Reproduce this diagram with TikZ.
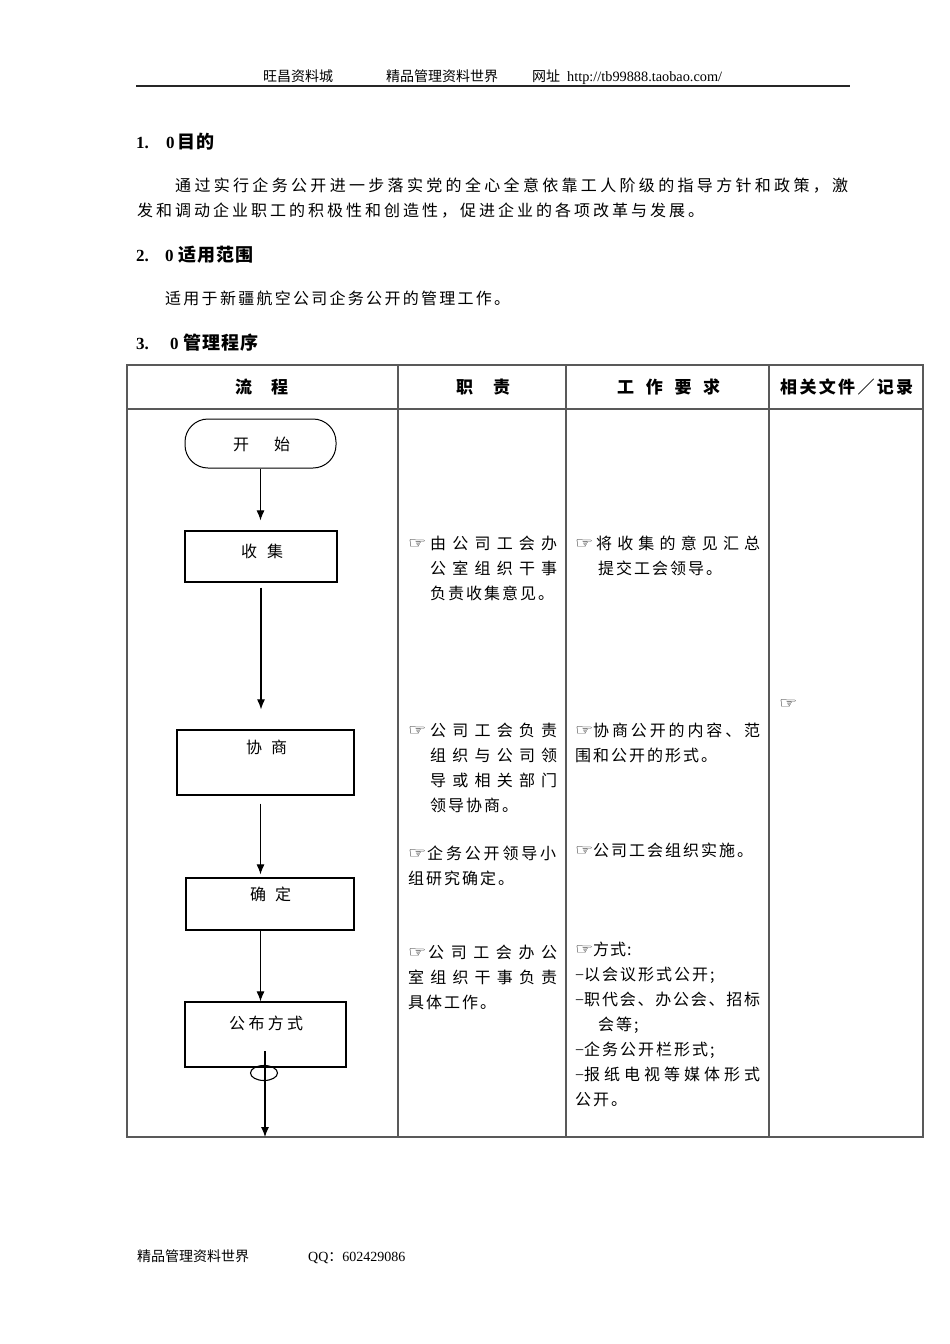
\documentclass[tikz,border=0pt]{standalone}
\usepackage{graphicx}
\usepackage{fontspec}
\setmainfont{Liberation Serif}
\newfontfamily\cjk{Noto Sans CJK SC}
\newfontfamily\sym{DejaVu Sans}
\usetikzlibrary{arrows.meta,shapes.geometric}

\def\sprdX#1#2{#1\ifx\relax#2\else\hfil\expandafter\sprdX\expandafter#2\fi}
\newcommand\spreadline[2]{\hbox to #1pt{\sprdX#2\relax}}
\def\gX#1#2{#1\ifx\relax#2\else\kern\curgap pt\expandafter\gX\expandafter#2\fi}
\newcommand\gapline[2]{\def\curgap{#1}\gX#2\relax}
\newcommand\hand[1]{\makebox[#1pt][l]{\raisebox{1pt}{\sym\fontsize{17}{17}\selectfont\scalebox{1.2}[0.9]{☞}}}}
\newcommand\dsh{{\rmfamily −}}

\tikzset{
  txt/.style={anchor=base west, inner sep=0pt, font=\cjk\fontsize{16}{16}\selectfont},
  smalltxt/.style={anchor=base west, inner sep=0pt, font=\cjk\fontsize{14}{14}\selectfont},
  headtxt/.style={anchor=base west, inner sep=0pt, font=\cjk\bfseries\fontsize{17}{17}\selectfont},
  sectxt/.style={anchor=base west, inner sep=0pt, font=\bfseries\fontsize{17}{17}\selectfont},
  flowbox/.style={draw=black, line width=1.2pt, inner sep=0pt, rectangle},
  arr/.style={-{Latex[length=10pt,width=8pt]}, line width=1.1pt},
  gridline/.style={draw=black!65, line width=1.2pt}
}

\begin{document}
\begin{tikzpicture}[x=1pt,y=-1pt]
\useasboundingbox (0,0) rectangle (950,1344);
\fill[white] (0,0) rectangle (950,1344);

% page header
\node[smalltxt] (hdr1) at (263,81) {旺昌资料城};
\node[smalltxt] (hdr2) at (386,81) {精品管理资料世界};
\node[smalltxt] (hdr3) at (532,81) {网址};
\node[anchor=base west, inner sep=0pt, font=\fontsize{14.3}{14.3}\selectfont] (hdr4) at (567,81) {http://tb99888.taobao.com/};
\draw[line width=1.5pt, black!85] (136,86) -- (850,86);

% section 1
\node[sectxt] (h1) at (136,148) {\makebox[30pt][l]{1.}0\kern3pt{\cjk\fontsize{18}{18}\selectfont\gapline{1}{目的}}};
\node[txt] (p1) at (175,191) {\spreadline{673}{通过实行企务公开进一步落实党的全心全意依靠工人阶级的指导方针和政策，激}};
\node[txt] (p2) at (137,216) {\gapline{3}{发和调动企业职工的积极性和创造性，促进企业的各项改革与发展。}};

% section 2
\node[sectxt] (h2) at (136,261) {\makebox[29pt][l]{2.}0\kern4.5pt{\cjk\fontsize{18}{18}\selectfont\gapline{1}{适用范围}}};
\node[txt] (p3) at (165,304) {\spreadline{345}{适用于新疆航空公司企务公开的管理工作。}};

% section 3
\node[sectxt] (h3) at (136,349) {\makebox[34pt][l]{3.}0\kern4.5pt{\cjk\fontsize{18}{18}\selectfont\gapline{1}{管理程序}}};

% table grid
\draw[gridline] (127,365) rectangle (923,1137);
\draw[gridline] (127,409) -- (923,409);
\draw[gridline] (398,365) -- (398,1137);
\draw[gridline] (566,365) -- (566,1137);
\draw[gridline] (769,365) -- (769,1137);

% table head
\node[headtxt] (th1) at (235,393) {\spreadline{53}{流程}};
\node[headtxt] (th2) at (456,393) {\spreadline{54}{职责}};
\node[headtxt] (th3) at (617,393) {\spreadline{103}{工作要求}};
\node[headtxt] (th4) at (780,393) {\spreadline{133}{相关文件／记录}};

% flow chart
\node[flowbox, line width=1pt, rounded corners=23pt, minimum width=151pt, minimum height=49pt] (start) at (260.5,443.5) {};
\node[flowbox, minimum width=152pt, minimum height=51pt] (collect) at (261,556.5) {};
\node[flowbox, minimum width=177pt, minimum height=65pt] (negotiate) at (265.5,762.5) {};
\node[flowbox, minimum width=168pt, minimum height=52pt] (confirm) at (270,904) {};
\node[flowbox, minimum width=161pt, minimum height=65pt] (publish) at (265.5,1034.5) {};
\node[draw=black, line width=1.1pt, ellipse, inner sep=0pt, minimum width=27pt, minimum height=15pt] (oval) at (264,1073) {};
\coordinate (flowend) at (265,1137);

\node[txt] (startt) at (233,450) {\spreadline{57}{开始}};
\node[txt] (collectt) at (241,557) {\spreadline{42}{收集}};
\node[txt] (negotiatet) at (246,753) {\spreadline{41}{协商}};
\node[txt] (confirmt) at (250,900) {\spreadline{41}{确定}};
\node[txt] (publisht) at (229,1029) {\spreadline{74}{公布方式}};

\draw[arr, shorten >=10pt] (start.south) -- (start.south |- collect.north);
\draw[arr, shorten <=5pt, shorten >=20pt] (collect.south) -- (collect.south |- negotiate.north);
\draw[arr, shorten <=8pt, shorten >=3pt] (start.south |- negotiate.south) -- (start.south |- confirm.north);
\draw[arr] (start.south |- confirm.south) -- (start.south |- publish.north);
\draw[arr, shorten <=16.5pt] (publish.center -| flowend) -- (flowend);

% column 2: responsibilities
\node[txt] (a1) at (408,549) {\hand{22}\spreadline{127}{由公司工会办}};
\node[txt] (a2) at (430,574) {\spreadline{127}{公室组织干事}};
\node[txt] (a3) at (430,599) {\gapline{2}{负责收集意见。}};

\node[txt] (b1) at (408,736) {\hand{22}\spreadline{127}{公司工会负责}};
\node[txt] (b2) at (430,761) {\spreadline{127}{组织与公司领}};
\node[txt] (b3) at (430,786) {\spreadline{127}{导或相关部门}};
\node[txt] (b4) at (430,811) {\gapline{2}{领导协商。}};

\node[txt] (c1) at (408,859) {\hand{19}\spreadline{129}{企务公开领导小}};
\node[txt] (c2) at (408,884) {\gapline{2}{组研究确定。}};

\node[txt] (d1) at (408,958) {\hand{20}\spreadline{129}{公司工会办公}};
\node[txt] (d2) at (408,983) {\spreadline{149}{室组织干事负责}};
\node[txt] (d3) at (408,1008) {\gapline{2}{具体工作。}};

% column 3: work requirements
\node[txt] (e1) at (575,549) {\hand{21}\spreadline{164}{将收集的意见汇总}};
\node[txt] (e2) at (598,574) {\gapline{2}{提交工会领导。}};

\node[txt] (f1) at (575,736) {\hand{18}\spreadline{167}{协商公开的内容、范}};
\node[txt] (f2) at (575,761) {\gapline{2}{围和公开的形式。}};

\node[txt] (g1) at (575,856) {\hand{18}\gapline{2}{公司工会组织实施。}};

\node[txt] (k1) at (575,955) {\hand{18}\gapline{1}{方式:}};
\node[txt] (k2) at (575,980) {\dsh\gapline{2}{以会议形式公开;}};
\node[txt] (k3) at (575,1005) {\dsh\spreadline{176}{职代会、办公会、招标}};
\node[txt] (k4) at (598,1030) {\gapline{2}{会等;}};
\node[txt] (k5) at (575,1055) {\dsh\gapline{2}{企务公开栏形式;}};
\node[txt] (k6) at (575,1080) {\dsh\spreadline{176}{报纸电视等媒体形式}};
\node[txt] (k7) at (575,1105) {\gapline{2}{公开。}};

% column 4
\node[txt] (m1) at (779,709) {\hand{18}};

% footer
\node[smalltxt] (ft1) at (137,1261) {精品管理资料世界};
\node[anchor=base west, inner sep=0pt, font=\fontsize{14}{14}\selectfont] (ft2) at (308,1261) {QQ{\cjk ：}602429086};
\end{tikzpicture}
\end{document}
